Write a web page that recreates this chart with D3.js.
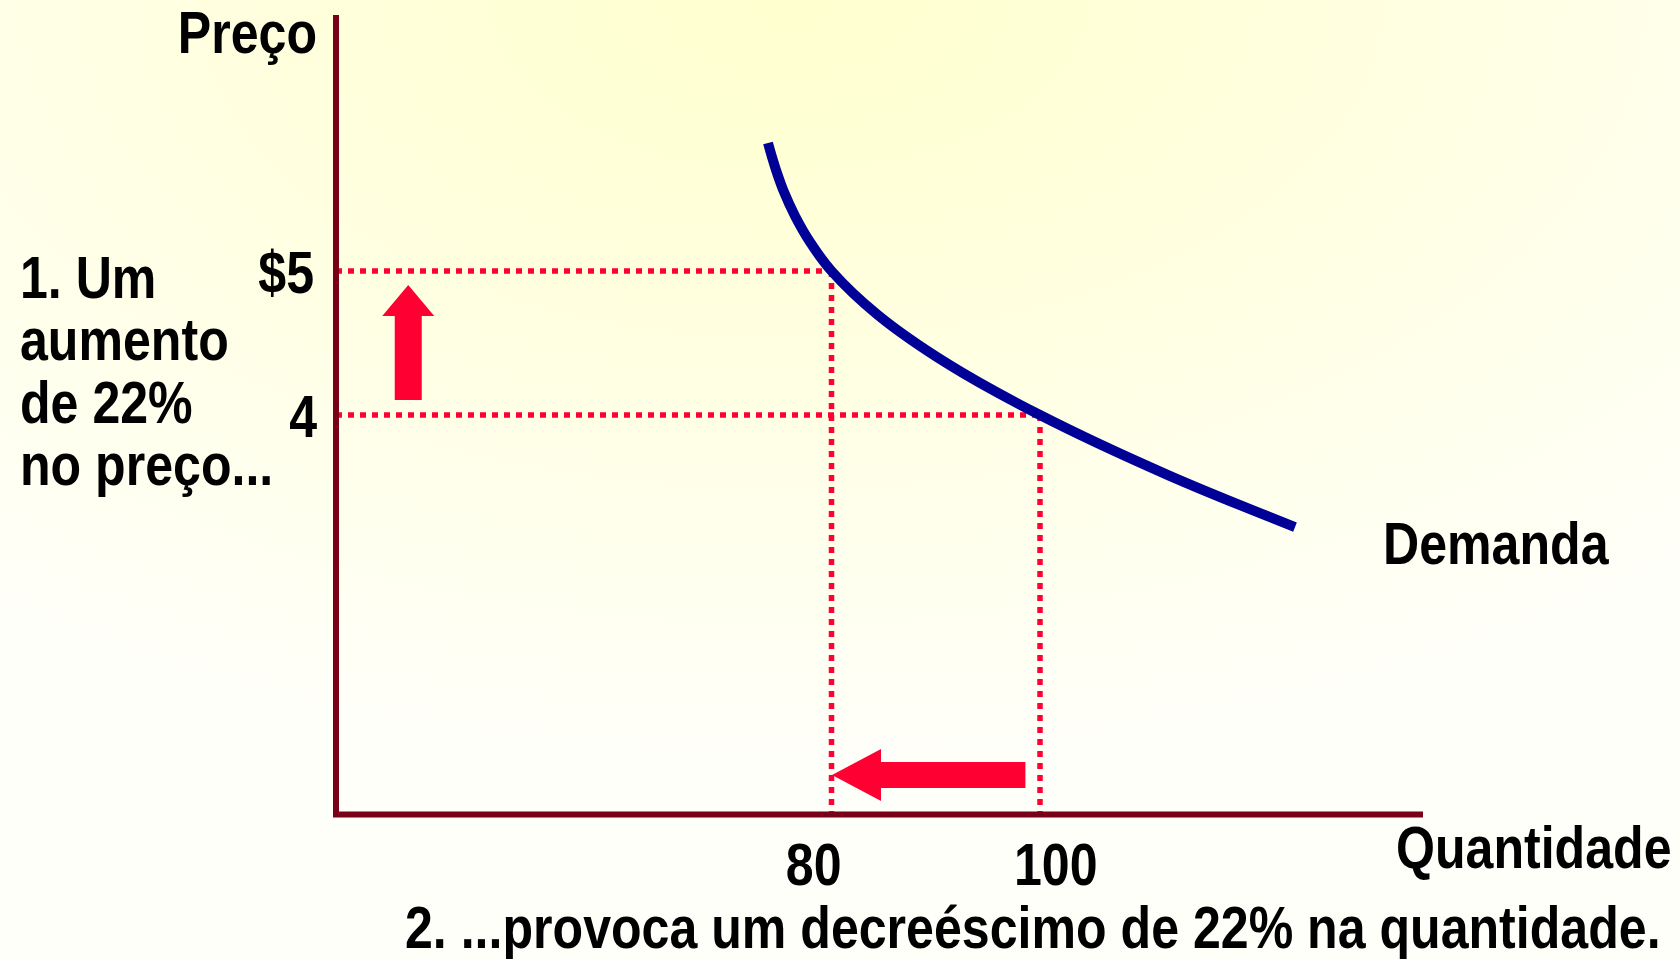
<!DOCTYPE html>
<html>
<head>
  <meta charset="utf-8">
  <title>Demanda</title>
  <script src="https://d3js.org/d3.v7.min.js"></script>
  <style>
    body { margin: 0; background: #fffff8; }
    text { font-family: "Liberation Sans", Arial, sans-serif; font-weight: bold; fill: #000; }
  </style>
</head>
<body>
<svg width="1680" height="959"></svg>
<script>
  // demand curve (quantity, price)
  const curveQ = [73.91, 74.29, 74.68, 75.44, 76.50, 77.94, 80, 84.46, 91.18, 100, 112.28, 124.46];
  const curveP = [5.889, 5.792, 5.701, 5.549, 5.382, 5.201, 5.0, 4.694, 4.354, 4.0, 3.583, 3.222];

  // the two points marked on the curve
  const markQ = [80, 100];
  const markP = [5, 4];
  const priceLabels = ["$5", "4"];
  const qtyLabels = ["80", "100"];

  const leftText = ["1. Um", "aumento", "de 22%", "no preço..."];
  const bottomText = "2. ...provoca um decreéscimo de 22% na quantidade.";

  let svg = d3.select("svg"),
      width = +svg.attr("width"),
      height = +svg.attr("height");

  // background glow
  let defs = svg.append("defs");
  let grad = defs.append("radialGradient")
      .attr("id", "bg")
      .attr("cx", 0.47).attr("cy", 0).attr("r", 0.8)
      .attr("fx", 0.47).attr("fy", 0);
  grad.append("stop").attr("offset", "0").attr("stop-color", "#ffffd0");
  grad.append("stop").attr("offset", "0.2").attr("stop-color", "#ffffd6");
  grad.append("stop").attr("offset", "1").attr("stop-color", "#fffffa");
  svg.append("rect").attr("width", width).attr("height", height).attr("fill", "url(#bg)");

  // scales: linear, pinned by the two marked points
  let xScale = d3.scaleLinear().domain([80, 100]).range([831.5, 1040]);
  let yScale = d3.scaleLinear().domain([4, 5]).range([415, 271]);

  let x0 = 336, xEnd = 1423, yTop = 15, yBase = 814.5;

  let g = svg.append("g");

  // narrow bold text (Liberation Sans squeezed like Arial Narrow)
  function label(x, y, str, anchor) {
    return g.append("text")
        .attr("transform", "translate(" + x + "," + y + ") scale(0.835,1)")
        .attr("text-anchor", anchor || "start")
        .attr("font-size", 60)
        .text(str);
  }

  // dotted guides
  let guides = g.append("g")
      .attr("stroke", "#ff0033")
      .attr("stroke-width", 5.5)
      .attr("stroke-dasharray", "6,6")
      .attr("fill", "none");

  markQ.forEach(function (q, i) {
    guides.append("line")
        .attr("x1", x0).attr("x2", xScale(q))
        .attr("y1", yScale(markP[i])).attr("y2", yScale(markP[i]));
    guides.append("line")
        .attr("x1", xScale(q)).attr("x2", xScale(q))
        .attr("y1", yScale(markP[i])).attr("y2", yBase);
  });

  // axes
  g.append("path")
      .attr("d", "M" + x0 + "," + yTop + "V" + yBase + "H" + xEnd)
      .attr("fill", "none")
      .attr("stroke", "#7a0018")
      .attr("stroke-width", 6);

  // demand curve
  let line = d3.line()
      .x(function (d) { return xScale(d[0]); })
      .y(function (d) { return yScale(d[1]); })
      .curve(d3.curveCatmullRom.alpha(0.5));

  g.append("path")
      .attr("d", line(d3.zip(curveQ, curveP)))
      .attr("fill", "none")
      .attr("stroke", "#000096")
      .attr("stroke-width", 10);

  // block arrows (tail -> tip) in data units
  const arrows = [
    { from: [39.4, 4.104], to: [39.4, 4.903], head: 31, headW: 52, shaft: 27 },
    { from: [98.6, 1.5], to: [80.05, 1.5], head: 49, headW: 52, shaft: 26 }
  ];

  arrows.forEach(function (a) {
    let x1 = xScale(a.from[0]), y1 = yScale(a.from[1]),
        x2 = xScale(a.to[0]), y2 = yScale(a.to[1]);
    let len = Math.hypot(x2 - x1, y2 - y1),
        ang = Math.atan2(y2 - y1, x2 - x1) * 180 / Math.PI;
    let s = a.shaft / 2, h = a.headW / 2, b = len - a.head;
    let pts = [[0, -s], [b, -s], [b, -h], [len, 0], [b, h], [b, s], [0, s]];
    g.append("polygon")
        .attr("points", pts.map(function (p) { return p.join(","); }).join(" "))
        .attr("transform", "translate(" + x1 + "," + y1 + ") rotate(" + ang + ")")
        .attr("fill", "#ff0033");
  });

  // tick labels
  markP.forEach(function (p, i) {
    label(i === 0 ? 314 : 317, yScale(p) + 22, priceLabels[i], "end");
  });

  markQ.forEach(function (q, i) {
    if (i === 0) label(xScale(q) + 10, 885, qtyLabels[i], "end");
    else label(xScale(q) - 26, 885, qtyLabels[i], "start");
  });

  // axis titles and notes
  label(317, 53, "Preço", "end");
  label(1396, 868, "Quantidade");
  label(1383, 564, "Demanda");

  leftText.forEach(function (d, i) {
    label(20, 298 + i * 62.3, d);
  });

  label(405, 948, bottomText);
</script>
</body>
</html>
